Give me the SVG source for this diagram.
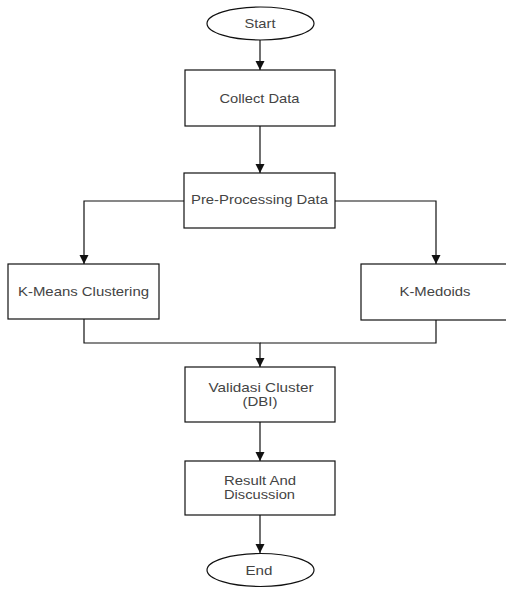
<svg xmlns="http://www.w3.org/2000/svg" width="506" height="589" viewBox="0 0 506 589">
<style>
.box{fill:#fff;stroke:#111;stroke-width:1.2}
.lbl{font-family:"Liberation Sans",Arial,sans-serif;font-size:13px;fill:#444;text-anchor:middle}
.edge{fill:none;stroke:#111;stroke-width:1.2}
</style>
<defs>
<marker id="ah" markerUnits="userSpaceOnUse" markerWidth="10" markerHeight="10" refX="9" refY="5" orient="auto">
<path d="M0,0.5 L9,5 L0,9.5 z" fill="#111"/>
</marker>
</defs>
<rect width="506" height="589" fill="#fff"/>
<g id="edges">
<path class="edge" d="M260,40 V70" marker-end="url(#ah)"/>
<path class="edge" d="M260,126 V173" marker-end="url(#ah)"/>
<path class="edge" d="M184,201 H84 V264" marker-end="url(#ah)"/>
<path class="edge" d="M335,201 H436 V264" marker-end="url(#ah)"/>
<path class="edge" d="M84,319 V343 H260 V367" marker-end="url(#ah)"/>
<path class="edge" d="M436,320 V343 H260"/>
<path class="edge" d="M260,422 V461" marker-end="url(#ah)"/>
<path class="edge" d="M260,515 V553" marker-end="url(#ah)"/>
</g>
<g id="start">
<ellipse class="box" cx="260.5" cy="23.5" rx="53.5" ry="16.5"/>
<text class="lbl" x="260" y="27.5" textLength="31" lengthAdjust="spacingAndGlyphs">Start</text>
</g>
<g id="collect">
<rect class="box" x="185" y="70" width="150" height="56"/>
<text class="lbl" x="259.5" y="102.5" textLength="80" lengthAdjust="spacingAndGlyphs">Collect Data</text>
</g>
<g id="preprocess">
<rect class="box" x="184" y="173" width="151" height="55"/>
<text class="lbl" x="259.5" y="203.5" textLength="137" lengthAdjust="spacingAndGlyphs">Pre-Processing Data</text>
</g>
<g id="kmeans">
<rect class="box" x="8" y="264" width="151" height="55"/>
<text class="lbl" x="83.5" y="295.5" textLength="131" lengthAdjust="spacingAndGlyphs">K-Means Clustering</text>
</g>
<g id="kmedoids">
<rect class="box" x="361" y="264" width="150" height="56"/>
<text class="lbl" x="435" y="296" textLength="71" lengthAdjust="spacingAndGlyphs">K-Medoids</text>
</g>
<g id="validasi">
<rect class="box" x="185" y="367" width="150" height="55"/>
<text class="lbl" x="261" y="392" textLength="105" lengthAdjust="spacingAndGlyphs">Validasi Cluster</text>
<text class="lbl" x="260" y="405.5" textLength="35" lengthAdjust="spacingAndGlyphs">(DBI)</text>
</g>
<g id="result">
<rect class="box" x="185" y="461" width="150" height="54"/>
<text class="lbl" x="260" y="485" textLength="72" lengthAdjust="spacingAndGlyphs">Result And</text>
<text class="lbl" x="259.5" y="498.5" textLength="71" lengthAdjust="spacingAndGlyphs">Discussion</text>
</g>
<g id="end">
<ellipse class="box" cx="260.5" cy="570" rx="53.5" ry="16.5"/>
<text class="lbl" x="259" y="575" textLength="27" lengthAdjust="spacingAndGlyphs">End</text>
</g>
</svg>
